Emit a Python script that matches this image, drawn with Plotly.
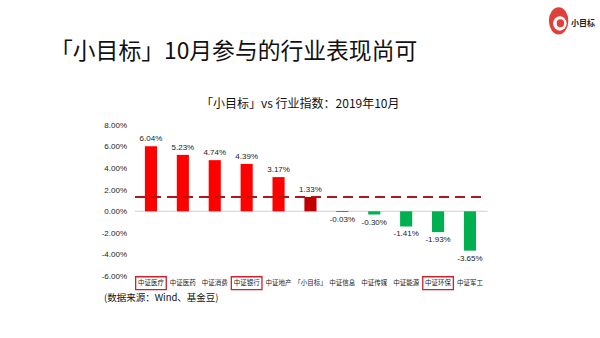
import plotly.graph_objects as go

# Monthly returns, October 2019 (%)
categories = ["中证医疗", "中证医药", "中证消费", "中证银行", "中证地产", "「小目标」",
              "中证信息", "中证传媒", "中证能源", "中证环保", "中证军工"]
returns = [6.04, 5.23, 4.74, 4.39, 3.17, 1.33, -0.03, -0.30, -1.41, -1.93, -3.65]
benchmark_name = "「小目标」"
highlighted = ["中证医疗", "中证银行", "中证环保"]
y_ticks = [-6, -4, -2, 0, 2, 4, 6, 8]

CJK = "Noto Sans CJK SC"
RED, DARK_RED, GREEN = "#FF0000", "#C00000", "#00B050"

bench_value = returns[categories.index(benchmark_name)]
colors = [DARK_RED if c == benchmark_name else (RED if v >= 0 else GREEN)
          for c, v in zip(categories, returns)]
labels = [f"{v:.2f}%" for v in returns]

fig = go.Figure()
fig.add_trace(go.Bar(
    x=categories, y=returns, marker_color=colors, marker_line_width=0,
    text=labels, textposition="outside", cliponaxis=False, constraintext="none",
    textfont=dict(family="Liberation Sans, Arial", size=8, color="#222"),
))

shapes = [
    # zero baseline
    dict(type="line", xref="x", yref="y", x0=-0.5, x1=10.55, y0=0, y1=0,
         line=dict(color="#d0d0d0", width=1), layer="below"),
    # benchmark reference line
    dict(type="line", xref="x", yref="y", x0=-0.5, x1=10.5, y0=bench_value, y1=bench_value,
         line=dict(color="#B01818", width=2, dash="10px,6px")),
]
for name in highlighted:
    i = categories.index(name)
    shapes.append(dict(type="rect", xref="x", yref="paper",
                       x0=i - 0.48, x1=i + 0.48, y0=-0.09, y1=-0.005,
                       line=dict(color="#D0202A", width=1.3)))

# logo: red ring with white centre and a small red dot
shapes += [
    dict(type="circle", xref="paper", yref="paper", x0=1.172, x1=1.227, y0=1.60, y1=1.78,
         fillcolor="#E0403A", line_width=0),
    dict(type="circle", xref="paper", yref="paper", x0=1.184, x1=1.222, y0=1.625, y1=1.72,
         fillcolor="white", line_width=0),
    dict(type="circle", xref="paper", yref="paper", x0=1.194, x1=1.215, y0=1.648, y1=1.70,
         fillcolor="#E0403A", line_width=0),
]

annotations = [
    dict(text="「小目标」10月参与的行业表现尚可", xref="paper", yref="paper",
         x=-0.243, y=1.50, xanchor="left", yanchor="middle", showarrow=False,
         font=dict(family=CJK, size=22.8, color="#111")),
    dict(text="「小目标」vs 行业指数：2019年10月", xref="paper", yref="paper",
         x=0.47, y=1.15, xanchor="center", yanchor="middle", showarrow=False,
         font=dict(family=CJK, size=12, color="#111")),
    dict(text="(数据来源：Wind、基金豆)", xref="paper", yref="paper",
         x=-0.09, y=-0.14, xanchor="left", yanchor="middle", showarrow=False,
         font=dict(family=CJK, size=9.5, color="#111")),
    dict(text="<b>小目标</b>", xref="paper", yref="paper", x=1.228, y=1.68,
         xanchor="left", yanchor="middle", showarrow=False,
         font=dict(family=CJK, size=8, color="#222")),
]

fig.update_layout(
    width=600, height=338, margin=dict(l=134, r=112, t=125, b=62),
    paper_bgcolor="white", plot_bgcolor="white", showlegend=False,
    bargap=0.62, shapes=shapes, annotations=annotations,
    xaxis=dict(showgrid=False, zeroline=False, showline=False, ticks="",
               tickfont=dict(family=CJK, size=6.5, color="#222"), tickangle=0,
               ticklabelstandoff=1),
    yaxis=dict(range=[-6, 8], tickvals=y_ticks,
               ticktext=[f"{t:.2f}%" for t in y_ticks],
               showgrid=False, zeroline=False, showline=False, ticks="",
               tickfont=dict(family="Liberation Sans, Arial", size=8, color="#222"),
               ticklabelstandoff=6),
)

fig.write_html("out.html")
